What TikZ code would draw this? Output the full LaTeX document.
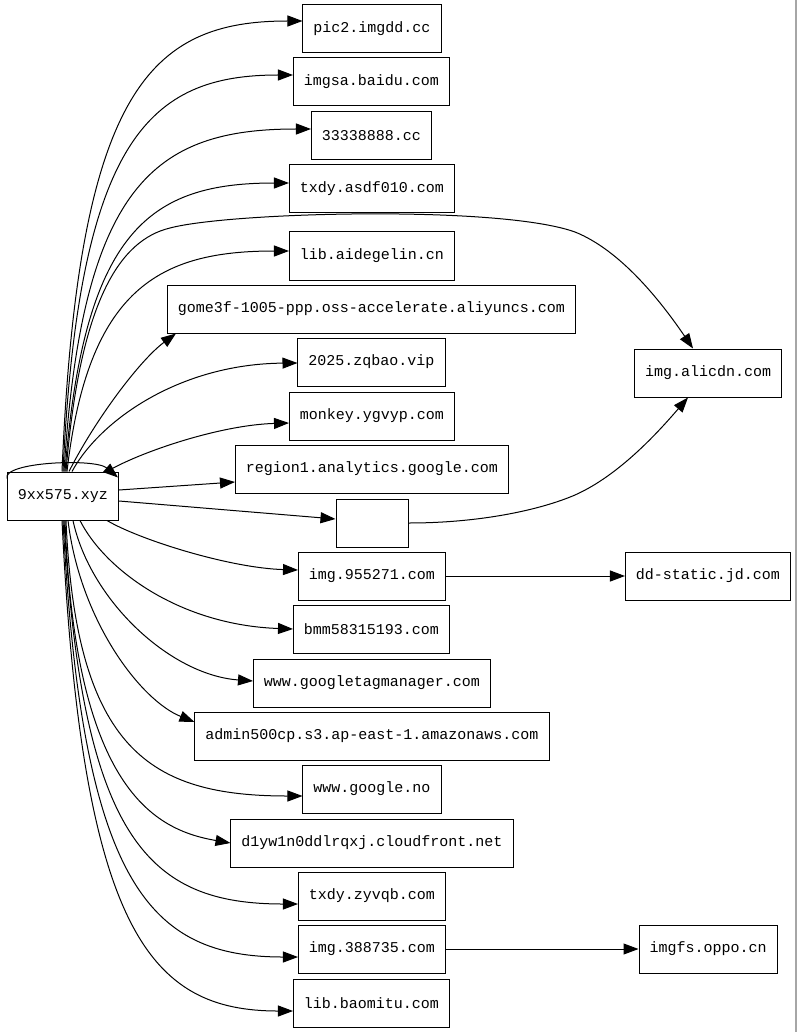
\documentclass[tikz,border=0pt]{standalone}
\usepackage{fontspec}
\setmonofont{Liberation Mono}
\usetikzlibrary{arrows.meta}
\begin{document}
\begin{tikzpicture}[x=1pt,y=-1pt,
  box/.style={draw, line width=1pt, rectangle, minimum width=72pt, minimum height=48pt, inner xsep=10.5pt, font=\ttfamily\fontsize{15}{18}\selectfont},
  e/.style={draw, line width=1pt, -{Triangle[length=15pt,width=11pt]}}]
\fill[white] (0,0) rectangle (797,1032);
\useasboundingbox (0,0) rectangle (797,1032);
\draw[gray!70, line width=1.5pt] (796,0) -- (796,1032);
% nodes
\node[box] (src) at (63,496) {9xx575.xyz};
\node[box] (pic2) at (372,29) {pic2.imgdd.cc};
\node[box] (imgsa) at (371.5,82) {imgsa.baidu.com};
\node[box] (n3333) at (371.5,136) {33338888.cc};
\node[box] (txdya) at (372,189) {txdy.asdf010.com};
\node[box] (libaid) at (372,256) {lib.aidegelin.cn};
\node[box] (gome) at (371.5,309) {gome3f-1005-ppp.oss-accelerate.aliyuncs.com};
\node[box] (zqbao) at (371.5,362) {2025.zqbao.vip};
\node[box] (monkey) at (372,416) {monkey.ygvyp.com};
\node[box] (region) at (372,469) {region1.analytics.google.com};
\node[box] (empty) at (372,523) {};
\node[box] (img955) at (372,576) {img.955271.com};
\node[box] (bmm) at (371.5,629) {bmm58315193.com};
\node[box] (gtm) at (372,683) {www.googletagmanager.com};
\node[box] (admin) at (372,736) {admin500cp.s3.ap-east-1.amazonaws.com};
\node[box] (gno) at (372,789) {www.google.no};
\node[box] (cloud) at (372,843) {d1yw1n0ddlrqxj.cloudfront.net};
\node[box] (txdyz) at (372,896) {txdy.zyvqb.com};
\node[box] (img388) at (372,949) {img.388735.com};
\node[box] (baomitu) at (371.5,1003) {lib.baomitu.com};
\node[box] (alicdn) at (708,373) {img.alicdn.com};
\node[box] (jd) at (708,576) {dd-static.jd.com};
\node[box] (oppo) at (708,949) {imgfs.oppo.cn};
% self loop
\draw[e] ([yshift=-7pt]src.north west) .. controls (2,462) and (95,458) .. ([xshift=-1pt,yshift=-6pt]src.north east);
% upper edges
\draw[e] ([xshift=-1pt]src.north) .. controls (78,90) and (150,21) .. ([yshift=8pt]pic2.west);
\draw[e] ([xshift=0pt]src.north) .. controls (79,138) and (150,75) .. ([yshift=7pt]imgsa.west);
\draw[e] ([xshift=1pt]src.north) .. controls (82,184) and (155,129) .. ([yshift=7pt]n3333.west);
\draw[e] ([xshift=2pt]src.north) .. controls (84,230) and (150,183) .. ([yshift=6pt]txdya.west);
\draw[e] ([xshift=4pt]src.north) .. controls (88,288) and (160,251) .. ([yshift=5pt]libaid.west);
\draw[e] ([xshift=3pt]src.north) .. controls (80,300) and (120,240) .. (170,228) .. controls (230,212) and (500,205) .. (575,232) .. controls (620,250) and (660,300) .. ([xshift=-15pt]alicdn.north);
\draw[e] ([xshift=6pt]src.north) .. controls (95,420) and (140,360) .. ([xshift=9pt]gome.south west);
\draw[e] ([xshift=9pt]src.north) .. controls (100,420) and (180,364) .. ([yshift=-1pt]zqbao.west);
\draw[e] ([xshift=-12pt]src.north east) .. controls (140,452) and (220,425) .. ([yshift=-7pt]monkey.west);
\draw[e] ([yshift=6pt]src.east) -- ([yshift=-13pt]region.west);
\draw[e] ([yshift=-5pt]src.east) -- ([yshift=4pt]empty.west);
% lower edges
\draw[e] ([xshift=-12pt]src.south east) .. controls (140,540) and (230,568) .. ([yshift=6pt]img955.west);
\draw[e] ([xshift=17pt]src.south) .. controls (105,570) and (180,625) .. (bmm.west);
\draw[e] ([xshift=10pt]src.south) .. controls (90,600) and (170,675) .. ([yshift=2pt]gtm.west);
\draw[e] ([xshift=5pt]src.south) .. controls (80,620) and (140,700) .. ([yshift=14pt]admin.west);
\draw[e] ([xshift=3pt]src.south) .. controls (76,750) and (150,796) .. ([yshift=-7pt]gno.west);
\draw[e] ([xshift=2pt]src.south) .. controls (75,790) and (155,830) .. (cloud.west);
\draw[e] ([xshift=1pt]src.south) .. controls (82,842) and (150,904) .. ([yshift=-8pt]txdyz.west);
\draw[e] ([xshift=0pt]src.south) .. controls (82,886) and (150,957) .. ([yshift=-8pt]img388.west);
\draw[e] ([xshift=-1pt]src.south) .. controls (82,932) and (150,1011) .. ([yshift=-8pt]baomitu.west);
% right side
\draw[e] (empty.east) .. controls (480,523) and (540,510) .. (575,495) .. controls (620,475) and (660,430) .. ([xshift=-20pt]alicdn.south);
\draw[e] (img955.east) -- (jd.west);
\draw[e] (img388.east) -- (oppo.west);
\end{tikzpicture}
\end{document}
